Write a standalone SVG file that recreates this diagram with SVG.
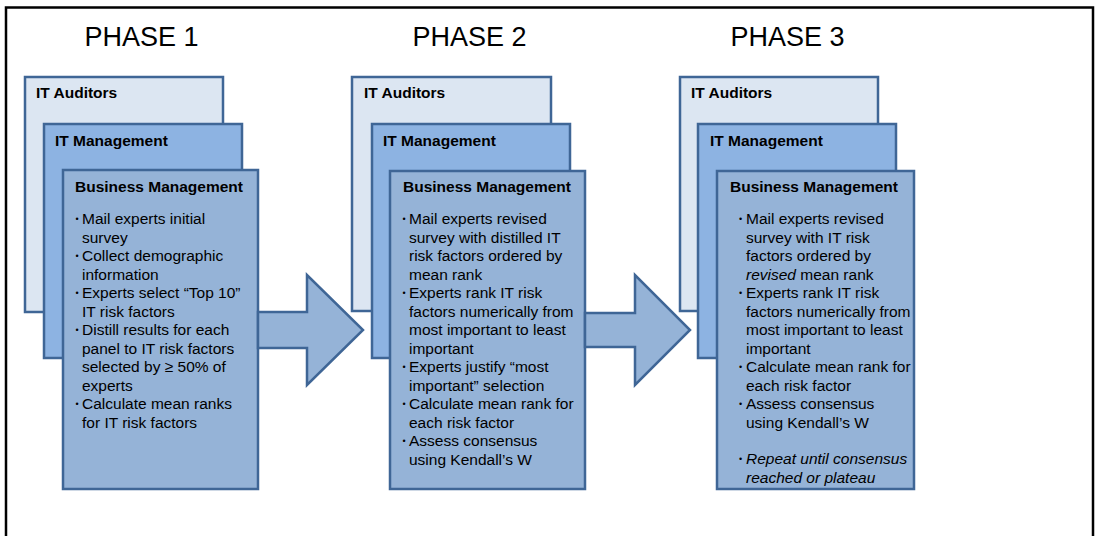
<svg xmlns="http://www.w3.org/2000/svg" width="1097" height="536" viewBox="0 0 1097 536">
<style>
.frame{fill:#fff;stroke:#000;stroke-width:2.5}
.aud{fill:#DCE6F2;stroke:#3F6696;stroke-width:2.5}
.mgt{fill:#8DB3E2;stroke:#3F6696;stroke-width:2.5}
.bus{fill:#95B3D7;stroke:#3F6696;stroke-width:2.5}
.arr{fill:#95B3D7;stroke:#3F6696;stroke-width:2.5;stroke-linejoin:miter}
.phase{font-family:"Liberation Sans",Arial,sans-serif;font-size:27px;fill:#000}
.hd{font-family:"Liberation Sans",Arial,sans-serif;font-size:15.5px;font-weight:bold;fill:#000}
.tx{font-family:"Liberation Sans",Arial,sans-serif;font-size:15.5px;fill:#000}
.bl{font-family:"Liberation Sans",Arial,sans-serif;font-size:9px;fill:#000}
.it{font-style:italic}
</style>
<rect class="frame" x="6" y="7.5" width="1087" height="545"/>
<text class="phase" x="141.5" y="46" text-anchor="middle">PHASE 1</text>
<text class="phase" x="469.5" y="46" text-anchor="middle">PHASE 2</text>
<text class="phase" x="787.5" y="46" text-anchor="middle">PHASE 3</text>

<g id="p1-auditors"><rect class="aud" x="25" y="77" width="198" height="235"/><text class="hd" x="36" y="98">IT Auditors</text></g>
<g id="p1-itmgmt"><rect class="mgt" x="44" y="124" width="198" height="234"/><text class="hd" x="55" y="146">IT Management</text></g>
<g id="p1-business"><rect class="bus" x="63" y="170" width="195" height="319"/><text class="hd" x="75" y="192">Business Management</text>
<text class="bl" x="75.5" y="221.5">•</text><text class="tx" x="82" y="224">Mail experts initial</text>
<text class="tx" x="82" y="242.5">survey</text>
<text class="bl" x="75.5" y="258.5">•</text><text class="tx" x="82" y="261">Collect demographic</text>
<text class="tx" x="82" y="279.5">information</text>
<text class="bl" x="75.5" y="295.5">•</text><text class="tx" x="82" y="298">Experts select “Top 10”</text>
<text class="tx" x="82" y="316.5">IT risk factors</text>
<text class="bl" x="75.5" y="332.5">•</text><text class="tx" x="82" y="335">Distill results for each</text>
<text class="tx" x="82" y="353.5">panel to IT risk factors</text>
<text class="tx" x="82" y="372">selected by ≥ 50% of</text>
<text class="tx" x="82" y="390.5">experts</text>
<text class="bl" x="75.5" y="406.5">•</text><text class="tx" x="82" y="409">Calculate mean ranks</text>
<text class="tx" x="82" y="427.5">for IT risk factors</text>
</g>

<g id="p2-auditors"><rect class="aud" x="352" y="77" width="199" height="234"/><text class="hd" x="364" y="98">IT Auditors</text></g>
<g id="p2-itmgmt"><rect class="mgt" x="372" y="124" width="198" height="234"/><text class="hd" x="383" y="146">IT Management</text></g>
<g id="p2-business"><rect class="bus" x="390" y="171" width="195" height="318"/><text class="hd" x="403" y="192">Business Management</text>
<text class="bl" x="402.5" y="221.5">•</text><text class="tx" x="409" y="224">Mail experts revised</text>
<text class="tx" x="409" y="242.5">survey with distilled IT</text>
<text class="tx" x="409" y="261">risk factors ordered by</text>
<text class="tx" x="409" y="279.5">mean rank</text>
<text class="bl" x="402.5" y="295.5">•</text><text class="tx" x="409" y="298">Experts rank IT risk</text>
<text class="tx" x="409" y="316.5">factors numerically from</text>
<text class="tx" x="409" y="335">most important to least</text>
<text class="tx" x="409" y="353.5">important</text>
<text class="bl" x="402.5" y="369.5">•</text><text class="tx" x="409" y="372">Experts justify “most</text>
<text class="tx" x="409" y="390.5">important” selection</text>
<text class="bl" x="402.5" y="406.5">•</text><text class="tx" x="409" y="409">Calculate mean rank for</text>
<text class="tx" x="409" y="427.5">each risk factor</text>
<text class="bl" x="402.5" y="443.5">•</text><text class="tx" x="409" y="446">Assess consensus</text>
<text class="tx" x="409" y="464.5">using Kendall’s W</text>
</g>

<g id="p3-auditors"><rect class="aud" x="680" y="77" width="198" height="234"/><text class="hd" x="691" y="98">IT Auditors</text></g>
<g id="p3-itmgmt"><rect class="mgt" x="698" y="124" width="198" height="234"/><text class="hd" x="710" y="146">IT Management</text></g>
<g id="p3-business"><rect class="bus" x="717" y="171" width="197" height="318"/><text class="hd" x="730" y="192">Business Management</text>
<text class="bl" x="739" y="221.5">•</text><text class="tx" x="746" y="224">Mail experts revised</text>
<text class="tx" x="746" y="242.5">survey with IT risk</text>
<text class="tx" x="746" y="261">factors ordered by</text>
<text class="tx" x="746" y="279.5"><tspan class="it">revised</tspan> mean rank</text>
<text class="bl" x="739" y="295.5">•</text><text class="tx" x="746" y="298">Experts rank IT risk</text>
<text class="tx" x="746" y="316.5">factors numerically from</text>
<text class="tx" x="746" y="335">most important to least</text>
<text class="tx" x="746" y="353.5">important</text>
<text class="bl" x="739" y="369.5">•</text><text class="tx" x="746" y="372">Calculate mean rank for</text>
<text class="tx" x="746" y="390.5">each risk factor</text>
<text class="bl" x="739" y="406.5">•</text><text class="tx" x="746" y="409">Assess consensus</text>
<text class="tx" x="746" y="427.5">using Kendall’s W</text>
<text class="bl" x="739" y="461.5">•</text><text class="tx it" x="746" y="464">Repeat until consensus</text>
<text class="tx it" x="746" y="482.5">reached or plateau</text>
</g>

<g id="connectors">
<polygon class="arr" points="258,312 307,312 307,275 363,330 307,385 307,348 258,348"/>
<polygon class="arr" points="585,313 635,313 635,275 690,330 635,385 635,347 585,347"/>
</g>
</svg>
